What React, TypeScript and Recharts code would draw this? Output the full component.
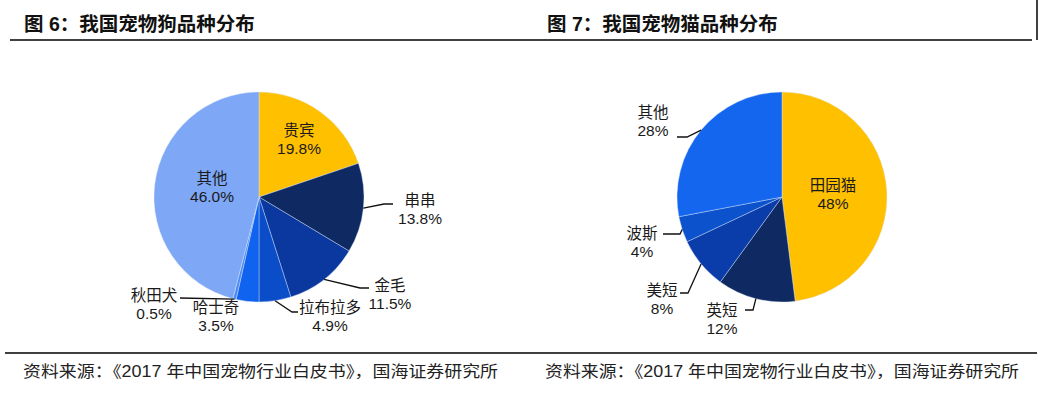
import { PieChart, Pie, Cell } from 'recharts';

const dogBreeds = ['贵宾', '串串', '金毛', '拉布拉多', '哈士奇', '秋田犬', '其他'];
const dogShares = [19.8, 13.8, 11.5, 4.9, 3.5, 0.5, 46.0];
const catBreeds = ['田园猫', '英短', '美短', '波斯', '其他'];
const catShares = [48, 12, 8, 4, 28];

const dogTitle = '图 6：我国宠物狗品种分布';
const catTitle = '图 7：我国宠物猫品种分布';
const sourceNote = '资料来源：《2017 年中国宠物行业白皮书》，国海证券研究所';

const dogColors = ['#FFC000', '#0F2A62', '#0A389E', '#0B4CC8', '#1063EE', '#4D8BF0', '#7EA8F6'];
const catColors = ['#FFC000', '#0F2A62', '#0A3CAA', '#0B52CC', '#1466EE'];

// label placement relative to pie centre; leader line starts on the rim at the slice mid angle
type LabelSpot = { x: number; y: number; line?: number[][] };

const dogLabelSpots: LabelSpot[] = [
  { x: 40, y: -58 },
  { x: 161, y: 12, line: [[125, 7], [134, 7]] },
  { x: 131, y: 97, line: [[101, 91], [110, 91]] },
  { x: 71, y: 119, line: [[33, 115], [39, 115]] },
  { x: -43, y: 119 },
  { x: -105, y: 107, line: [[-79, 101]] },
  { x: -47, y: -10 },
];

const catLabelSpots: LabelSpot[] = [
  { x: 51, y: -3 },
  { x: -60, y: 122, line: [[-29, 113], [-37, 113]] },
  { x: -120, y: 102, line: [[-94, 96], [-102, 96]] },
  { x: -140, y: 45, line: [[-102, 37], [-119, 37]] },
  { x: -129, y: -76, line: [[-95, -60], [-105, -60]] },
];

const FONT = "'Liberation Sans', Arial, 'Noto Sans CJK SC', sans-serif";
const RAD = Math.PI / 180;

function makeLabel(spots: LabelSpot[], decimals: number) {
  return (props: any) => {
    const { cx, cy, midAngle, outerRadius, name, value, index } = props;
    const spot = spots[index];
    const ex = cx + outerRadius * Math.cos(-midAngle * RAD);
    const ey = cy + outerRadius * Math.sin(-midAngle * RAD);
    const pts = spot.line
      ? [[ex, ey], ...spot.line.map(([dx, dy]) => [cx + dx, cy + dy])]
      : null;
    const tx = cx + spot.x;
    const ty = cy + spot.y;
    return (
      <g key={`lbl-${index}`}>
        {pts && (
          <polyline
            points={pts.map((p) => p.join(',')).join(' ')}
            fill="none"
            stroke="#111"
            strokeWidth={1.3}
          />
        )}
        <text x={tx} y={ty - 9} textAnchor="middle" dominantBaseline="central" fontSize={15.5} fill="#1a1a1a" fontFamily={FONT}>
          {name}
        </text>
        <text x={tx} y={ty + 9.5} textAnchor="middle" dominantBaseline="central" fontSize={15.5} fill="#1a1a1a" fontFamily={FONT}>
          {`${Number(value).toFixed(decimals)}%`}
        </text>
      </g>
    );
  };
}

const dogData = dogBreeds.map((name, i) => ({ name, value: dogShares[i] }));
const catData = catBreeds.map((name, i) => ({ name, value: catShares[i] }));

export default function App() {
  return (
    <div style={{ position: 'absolute', left: 0, top: 0, width: 1040, height: 395, background: '#fff', fontFamily: FONT }}>
      <svg width={1040} height={395} style={{ position: 'absolute', left: 0, top: 0 }}>
        <text x={24} y={24} dominantBaseline="central" fontSize={19.5} fontWeight="bold" fill="#111" fontFamily={FONT}>
          {dogTitle}
        </text>
        <text x={547} y={24} dominantBaseline="central" fontSize={19.5} fontWeight="bold" fill="#111" fontFamily={FONT}>
          {catTitle}
        </text>
        <line x1={10} y1={40} x2={1032} y2={40} stroke="#000" strokeWidth={1.5} />
        <line x1={1037} y1={0} x2={1037} y2={40} stroke="#000" strokeWidth={1.5} />
        <line x1={5} y1={353} x2={1037} y2={353} stroke="#000" strokeWidth={1.5} />
        <text x={23} y={371} dominantBaseline="central" fontSize={16} fill="#222" fontFamily={FONT} textLength={475} lengthAdjust="spacingAndGlyphs">
          {sourceNote}
        </text>
        <text x={545} y={371} dominantBaseline="central" fontSize={16} fill="#222" fontFamily={FONT} textLength={474} lengthAdjust="spacingAndGlyphs">
          {sourceNote}
        </text>
      </svg>
      <div style={{ position: 'absolute', left: 0, top: 0 }}>
        <PieChart width={520} height={353} margin={{ top: 0, right: 0, bottom: 0, left: 0 }}>
          <Pie
            data={dogData}
            dataKey="value"
            nameKey="name"
            cx={259}
            cy={197}
            outerRadius={105}
            startAngle={90}
            endAngle={-270}
            stroke="#dfe8fb"
            strokeWidth={0.4}
            label={makeLabel(dogLabelSpots, 1)}
            labelLine={false}
            isAnimationActive={false}
          >
            {dogData.map((d, i) => (
              <Cell key={d.name} fill={dogColors[i]} />
            ))}
          </Pie>
        </PieChart>
      </div>
      <div style={{ position: 'absolute', left: 520, top: 0 }}>
        <PieChart width={520} height={353} margin={{ top: 0, right: 0, bottom: 0, left: 0 }}>
          <Pie
            data={catData}
            dataKey="value"
            nameKey="name"
            cx={262}
            cy={197}
            outerRadius={105}
            startAngle={90}
            endAngle={-270}
            stroke="#dfe8fb"
            strokeWidth={0.4}
            label={makeLabel(catLabelSpots, 0)}
            labelLine={false}
            isAnimationActive={false}
          >
            {catData.map((d, i) => (
              <Cell key={d.name} fill={catColors[i]} />
            ))}
          </Pie>
        </PieChart>
      </div>
    </div>
  );
}
